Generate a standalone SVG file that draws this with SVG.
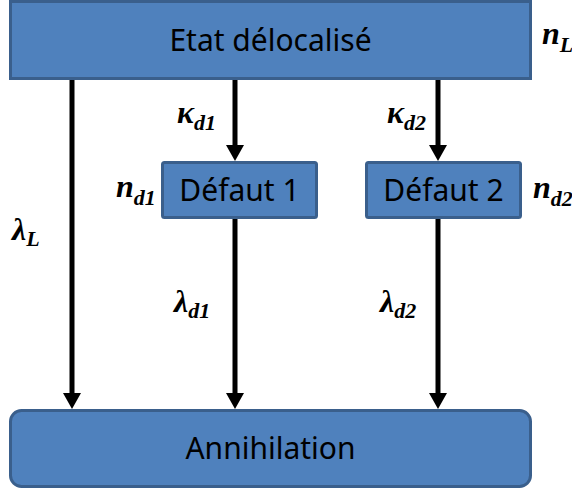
<svg xmlns="http://www.w3.org/2000/svg" width="572" height="491" viewBox="0 0 572 491">
<style>
.box{fill:#4F81BD;stroke:#3A5F8C;stroke-width:3}
.lbl{font-family:"Noto Sans","Open Sans","Liberation Sans",sans-serif;font-size:30px;fill:#000;text-anchor:middle}
.m{font-family:"Liberation Serif","DejaVu Serif",serif;font-style:italic;font-weight:bold;font-size:32px;fill:#000}
.s{font-size:22px}
.c{stroke:#000;stroke-width:5;fill:none;marker-end:url(#ah)}
</style>
<defs>
<marker id="ah" markerUnits="userSpaceOnUse" markerWidth="16" markerHeight="18" viewBox="0 -9 16 18" refX="1" refY="0" orient="auto">
<path d="M0,-9 L16,0 L0,9 z" fill="#000"/>
</marker>
</defs>
<g id="etat">
<rect class="box" x="10.5" y="1.5" width="520" height="77"/>
<text class="lbl" x="270.5" y="51">Etat délocalisé</text>
</g>
<g id="defaut1">
<rect class="box" x="162.5" y="162.5" width="154" height="55" rx="2"/>
<text class="lbl" x="239.5" y="201">Défaut 1</text>
</g>
<g id="defaut2">
<rect class="box" x="366.5" y="162.5" width="154" height="55" rx="2"/>
<text class="lbl" x="443.5" y="201">Défaut 2</text>
</g>
<g id="annihilation">
<rect class="box" x="10.5" y="410.5" width="520" height="76" rx="11"/>
<text class="lbl" x="270.5" y="459">Annihilation</text>
</g>
<g id="connectors">
<path class="c" d="M72,80 V394"/>
<path class="c" d="M235,80 V146"/>
<path class="c" d="M438,80 V146"/>
<path class="c" d="M235,219 V394"/>
<path class="c" d="M438,219 V394"/>
</g>
<g id="labels">
<text class="m" x="542" y="44">n<tspan class="s" dy="8">L</tspan></text>
<text class="m" x="177" y="123">κ<tspan class="s" dy="7">d1</tspan></text>
<text class="m" x="387" y="123">κ<tspan class="s" dy="7">d2</tspan></text>
<text class="m" x="116" y="197">n<tspan class="s" dy="8">d1</tspan></text>
<text class="m" x="533" y="198">n<tspan class="s" dy="8">d2</tspan></text>
<text class="m" x="12" y="240">λ<tspan class="s" dy="6">L</tspan></text>
<text class="m" x="174" y="312">λ<tspan class="s" dy="6">d1</tspan></text>
<text class="m" x="380" y="312">λ<tspan class="s" dy="6">d2</tspan></text>
</g>
</svg>
